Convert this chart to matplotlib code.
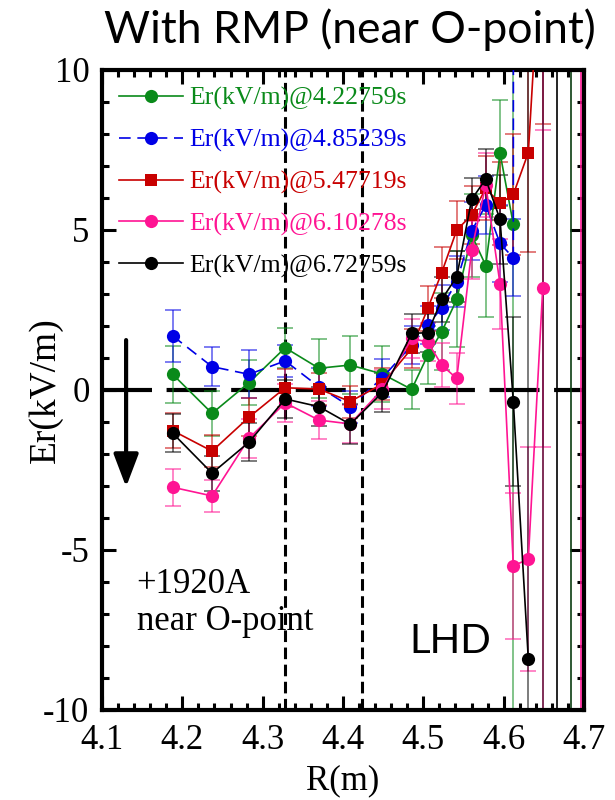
import matplotlib
matplotlib.use("Agg")
import matplotlib.pyplot as plt
from matplotlib.ticker import MultipleLocator

# Radial positions (m)
R = [4.188, 4.237, 4.283, 4.328, 4.370, 4.409, 4.449,
     4.4855, 4.5055, 4.5229, 4.5416, 4.5602, 4.5777, 4.5955, 4.612, 4.6307, 4.6486]

# Er (kV/m) profiles at five times
er_422759 = [0.49, -0.73, 0.23, 1.32, 0.68, 0.78, 0.50,
             0.02, 1.09, 1.82, 2.83, 4.84, 3.89, 7.40, 5.18]
err_422759 = [0.9, 0.7, 0.7, 0.63, 0.92, 0.92, 0.89,
              0.6, 0.9, 1.2, 1.5, 1.3, 1.6, 1.66, 20.0]

er_485239 = [1.69, 0.73, 0.49, 0.91, 0.10, -0.52, 0.38,
             1.40, 2.03, 2.57, 3.39, 4.97, 5.78, 4.58, 4.13, 40.0]
err_485239 = [0.8, 0.6, 0.75, 0.5, 0.6, 0.5, 0.6,
              0.6, 0.6, 0.7, 0.8, 0.9, 0.9, 1.2, 1.2, 0.0]
R_485239 = R[:15] + [4.6125]

er_547719 = [-1.27, -1.91, -0.85, 0.07, 0.03, -0.36, 0.19,
             1.30, 2.55, 3.67, 5.00, 5.47, 6.30, 5.83, 6.11, 7.42, 15.0]
err_547719 = [0.55, 0.5, 0.6, 0.6, 0.5, 0.5, 0.5,
              0.6, 0.7, 0.8, 0.9, 0.9, 1.0, 1.3, 1.9, 3.1, 6.7]

er_610278 = [-3.04, -3.31, -1.51, -0.40, -0.94, -1.06, 0.02,
             1.61, 1.50, 0.78, 0.36, 4.38, 6.41, 3.31, -5.49, -5.29, 3.18]
err_610278 = [0.58, 0.5, 0.6, 0.6, 0.6, 0.6, 0.6,
              0.6, 0.6, 0.7, 0.8, 0.9, 1.0, 1.4, 2.28, 3.5, 4.95]

er_672759 = [-1.35, -2.60, -1.63, -0.28, -0.52, -1.07, -0.08,
             1.77, 1.79, 2.83, 3.54, 5.96, 6.59, 5.33, -0.36, -8.42]
err_672759 = [0.6, 0.55, 0.6, 0.6, 0.6, 0.62, 0.6,
              0.6, 0.6, 0.7, 0.8, 0.66, 0.93, 1.4, 2.64, 30.0]

# Off-scale channels at the edge (only their error bars cross the frame)
R_edge = [4.6486, 4.666, 4.684, 4.696]
er_edge = [20.0, -20.0, 20.0, 15.0]
err_edge = [40.0, 40.0, 40.0, 40.0]
edge_colors = ["#6a0a3a", "#000000", "#0b3d12", "#ff1493"]

times = ["4.22759", "4.85239", "5.47719", "6.10278", "6.72759"]
colors = ["#0a8a1a", "#0000e6", "#c80000", "#ff1493", "#000000"]
markers = ["o", "o", "s", "o", "o"]
styles = ["-", (0, (7, 4)), "-", "-", "-"]

fig = plt.figure(figsize=(6.15, 8.0), dpi=100)
ax = fig.add_axes([102 / 615, 1 - 710 / 800, 482 / 615, 640 / 800])

serif = ["Liberation Serif", "DejaVu Serif"]
sans = ["Lato", "DejaVu Sans"]

series = [
    (R[:15], er_422759, err_422759),
    (R_485239, er_485239, err_485239),
    (R, er_547719, err_547719),
    (R, er_610278, err_610278),
    (R[:16], er_672759, err_672759),
]

handles = []
for (rr, yy, ee), t, c, m, ls in zip(series, times, colors, markers, styles):
    ax.errorbar(rr, yy, yerr=ee, fmt="none", ecolor=c, elinewidth=1.2,
                capsize=5.5, capthick=1.2, alpha=0.6, zorder=2)
    h, = ax.plot(rr, yy, linestyle=ls, color=c, lw=1.2, marker=m,
                 markersize=9.5 if m == "o" else 9, markeredgewidth=0,
                 zorder=3, label=f"Er(kV/m)@{t}s")
    handles.append(h)

for r, y, e, c in zip(R_edge, er_edge, err_edge, edge_colors):
    ax.errorbar([r], [y], yerr=[e], fmt="none", ecolor=c, elinewidth=1.2,
                capsize=0, zorder=2)

# Reference lines
ax.axhline(0, color="black", lw=3, dashes=(12, 3.5), zorder=1)
for xv in (4.328, 4.4237):
    ax.axvline(xv, color="black", lw=2.2, dashes=(3.8, 1.8), zorder=1)

ax.set_xlim(4.1, 4.7)
ax.set_ylim(-10, 10)
ax.xaxis.set_minor_locator(MultipleLocator(0.02))
ax.yaxis.set_minor_locator(MultipleLocator(1))
ax.set_xticks([4.1, 4.2, 4.3, 4.4, 4.5, 4.6, 4.7])
ax.set_xticklabels(["4.1", "4.2", "4.3", "4.4", "4.5", "4.6", "4.7"],
                   family=serif, fontsize=25)
ax.set_yticks([-10, -5, 0, 5, 10])
ax.set_yticklabels(["-10", "-5", "0", "5", "10"], family=serif, fontsize=25)
ax.tick_params(which="both", direction="in", top=True, right=True, width=2.2)
ax.tick_params(which="major", length=10)
ax.tick_params(which="minor", length=5)
ax.tick_params(axis="x", pad=10)
ax.tick_params(axis="y", pad=9)
for s in ax.spines.values():
    s.set_linewidth(3)

ax.set_xlabel("R(m)", family=serif, fontsize=25)
ax.xaxis.set_label_coords(0.5, -0.111)
ax.xaxis.label.set_va("center")
ax.set_ylabel("Er(kV/m)", family=serif, fontsize=27)
ax.yaxis.set_label_coords(-0.118, 0.5)
ax.yaxis.label.set_va("center")

leg = ax.legend(handles=handles, loc="upper left", bbox_to_anchor=(0.0, 1.0),
                frameon=False, prop={"family": serif, "size": 18.5},
                handlelength=2.5, handletextpad=0.25, labelspacing=0.72,
                borderaxespad=0.25)
for txt, c in zip(leg.get_texts(), colors):
    txt.set_color(c)

ax.text(4.143, -6.65, "+1920A\nnear O-point", family=serif, fontsize=25,
        ha="left", va="center", linespacing=1.15)
ax.text(4.534, -7.85, "LHD", family=sans, fontsize=29, ha="center", va="center")

# Downward arrow
ax.annotate("", xy=(4.13, -3.03), xytext=(4.13, 1.56),
            arrowprops=dict(arrowstyle="-|>,head_length=1.0,head_width=0.38",
                            mutation_scale=20, color="black", lw=3,
                            shrinkA=0, shrinkB=0))

fig.text(350 / 615, 1 - 30 / 800, "With RMP (near O-point)", family=sans,
         fontsize=32, ha="center", va="center")

fig.savefig("out.png", dpi=100)
